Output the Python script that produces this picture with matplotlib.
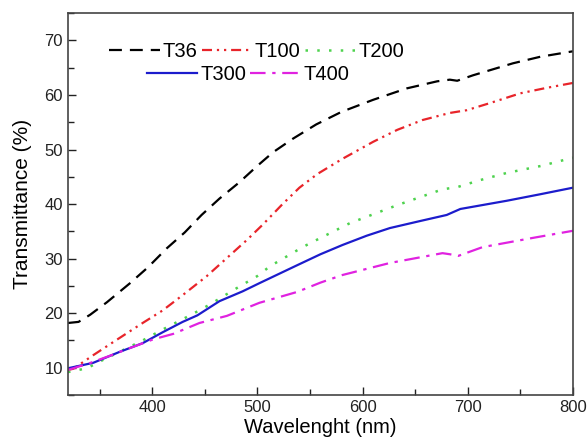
import matplotlib
matplotlib.use("Agg")
import matplotlib.pyplot as plt
from matplotlib.ticker import MultipleLocator

plt.rcParams['font.family'] = ['Liberation Sans', 'DejaVu Sans']

# Transmittance spectra, wavelength in nm, T in %
wl_36 = [320, 330, 341, 357, 379, 396, 414, 431, 447, 464, 483, 500, 515, 534, 556, 580,
         610, 642, 671, 683, 690, 705, 743, 769, 800]
t_36 = [18.2, 18.4, 19.7, 22.0, 25.5, 28.4, 31.9, 34.8, 38.0, 41.0, 44.0, 47.0, 49.5, 52.0,
        54.6, 56.9, 59.1, 61.2, 62.5, 62.8, 62.6, 63.6, 65.8, 67.0, 68.0]

wl_100 = [320, 325, 344, 363, 391, 410, 429, 452, 471, 490, 505, 524, 540, 557, 581, 610,
          633, 657, 683, 699, 721, 750, 775, 800]
t_100 = [9.6, 9.8, 12.3, 14.7, 18.2, 20.5, 23.3, 26.8, 30.1, 33.4, 36.2, 40.0, 43.0, 45.5,
         48.3, 51.4, 53.6, 55.4, 56.7, 57.2, 58.5, 60.3, 61.3, 62.2]

wl_200 = [320, 338, 353, 372, 391, 410, 439, 455, 477, 500, 512, 543, 553, 588, 633, 676,
          690, 712, 737, 770, 800]
t_200 = [9.2, 9.9, 11.4, 13.2, 15.0, 17.0, 19.9, 21.6, 24.2, 26.8, 28.6, 32.1, 33.1, 36.5,
         39.8, 42.7, 43.1, 44.4, 45.7, 47.0, 48.5]

wl_300 = [320, 344, 369, 391, 410, 429, 443, 464, 486, 502, 538, 560, 581, 604, 626, 655,
          680, 693, 737, 769, 800]
t_300 = [9.9, 10.9, 12.9, 14.5, 16.5, 18.4, 19.6, 22.2, 24.0, 25.5, 28.8, 30.8, 32.5, 34.2,
         35.6, 36.9, 38.0, 39.1, 40.6, 41.8, 43.0]

wl_400 = [320, 340, 360, 376, 401, 420, 445, 471, 502, 538, 560, 581, 626, 676, 683, 691,
          714, 762, 800]
t_400 = [9.6, 10.8, 12.2, 13.4, 15.2, 16.2, 18.2, 19.5, 21.9, 23.9, 25.6, 27.0, 29.2, 31.0,
         30.8, 30.5, 32.1, 33.8, 35.1]

fig = plt.figure(figsize=(5.87, 4.37), dpi=100)
ax = fig.add_axes([0.1158, 0.0961, 0.8602, 0.8739])

l36, = ax.plot(wl_36, t_36, color="black", lw=1.6, dashes=(5.8, 3.6), label="T36")
l100, = ax.plot(wl_100, t_100, color="#e8242a", lw=1.6,
                dashes=(4.5, 2.2, 1, 2.2, 1, 2.2), label="T100")
l200, = ax.plot(wl_200, t_200, color="#4ed24e", lw=1.8, dashes=(1, 3.7), label="T200")
l300, = ax.plot(wl_300, t_300, color="#1c1ccc", lw=1.6, label="T300")
l400, = ax.plot(wl_400, t_400, color="#e022e0", lw=1.6,
                dashes=(7, 3, 1.5, 3), label="T400")

ax.set_xlim(320, 800)
ax.set_ylim(5, 75)
ax.xaxis.set_major_locator(MultipleLocator(100))
ax.xaxis.set_minor_locator(MultipleLocator(50))
ax.yaxis.set_major_locator(MultipleLocator(10))
ax.yaxis.set_minor_locator(MultipleLocator(5))
ax.tick_params(which="both", direction="in", top=False, right=False, labelsize=12,
               colors="#222222")
ax.tick_params(which="major", length=6, width=1)
ax.tick_params(which="minor", length=4, width=1)
for s in ax.spines.values():
    s.set_color("#444444")
    s.set_linewidth(1.2)

ax.set_xlabel("Wavelenght (nm)", fontsize=14.5, labelpad=2)
ax.set_ylabel("Transmittance (%)", fontsize=15, labelpad=9)

leg1 = ax.legend(handles=[l36, l100, l200], ncol=3, frameon=False, fontsize=14.5,
                 loc="upper left", bbox_to_anchor=(0.066, 0.945), handlelength=2.5,
                 handletextpad=0.15, columnspacing=0.2, borderaxespad=0)
ax.add_artist(leg1)
ax.legend(handles=[l300, l400], ncol=2, frameon=False, fontsize=14.5,
          loc="upper left", bbox_to_anchor=(0.14, 0.885), handlelength=2.5,
          handletextpad=0.15, columnspacing=0.2, borderaxespad=0)

fig.savefig("out.png", dpi=100)
